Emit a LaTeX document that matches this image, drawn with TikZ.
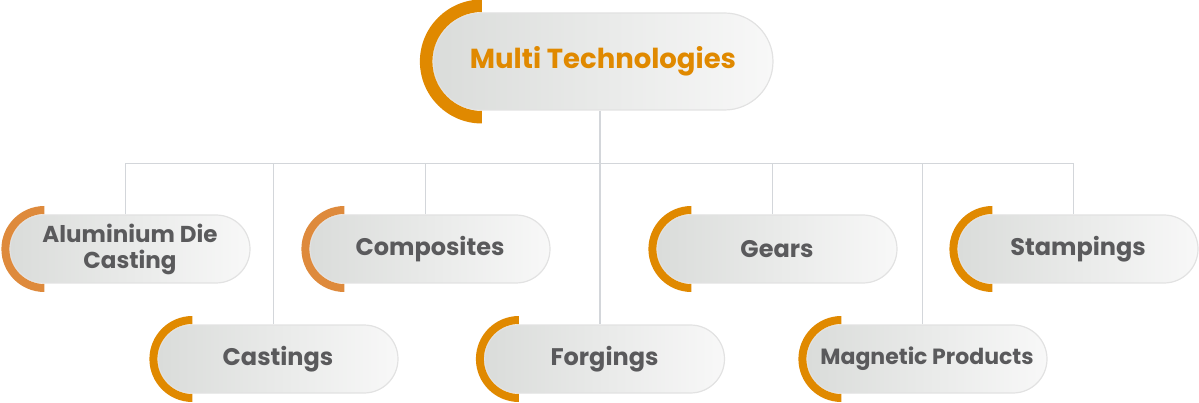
\documentclass[tikz,border=0pt]{standalone}
\usepackage{fontspec}
\setmainfont{Poppins}
\usetikzlibrary{shapes.misc,calc}
\definecolor{linegray}{RGB}{211,214,218}
\definecolor{txtgray}{RGB}{90,90,92}
\definecolor{orgA}{RGB}{224,137,0}
\definecolor{orgB}{RGB}{222,138,60}
\definecolor{pillL}{RGB}{218,220,218}
\definecolor{pillR}{RGB}{248,248,248}
\definecolor{pillE}{RGB}{226,226,226}
\tikzset{
  pill/.style={rounded rectangle, minimum width=240pt, minimum height=68pt, inner sep=0pt,
    left color=pillL, right color=pillR, draw=pillE, line width=1.2pt, text=txtgray,
    font=\bfseries\fontsize{24}{27}\selectfont, align=center},
  toppill/.style={pill, minimum width=340pt, minimum height=97pt, text=orgA,
    font=\bfseries\fontsize{27.5}{32}\selectfont},
  conn/.style={draw=linegray, line width=1.5pt},
}
\newcommand\halfring[4]{%
  \path ($(#1.west)+(#2pt,0)$) coordinate (#1c);
  \fill[#4] ($(#1c)+(0,#3pt)$) arc[start angle=90,end angle=270,radius=#3pt]
    -- ($(#1c)+(0,-#2pt)$) arc[start angle=270,end angle=90,radius=#2pt] -- cycle;
}
\begin{document}
\begin{tikzpicture}[x=1pt,y=-1pt]
\useasboundingbox (0,0) rectangle (1199,403);
\node[toppill] (top) at (603,61.5) {Multi Technologies};
\node[pill, font=\bfseries\fontsize{23}{26}\selectfont] (alu) at (130,249) {Aluminium Die\\Casting};
\node[pill] (comp) at (430,249) {Composites};
\node[pill] (gears) at (777,249) {Gears};
\node[pill] (stamp) at (1078,249) {Stampings};
\node[pill] (cast) at (278,359) {Castings};
\node[pill] (forg) at (604.5,359) {Forgings};
\node[pill, font=\bfseries\fontsize{22}{26}\selectfont] (magn) at (927,359) {Magnetic Products};
\coordinate (hub) at (600,163.5);
\draw[conn] (hub |- top.south) -- (hub);
\foreach \n in {alu,comp,gears,stamp,cast,forg,magn}{
  \draw[conn] ([xshift=-4.5pt]\n.north) |- (hub);
}
\halfring{top}{49.5}{62}{orgA}
\halfring{alu}{35}{43}{orgB}
\halfring{comp}{35}{43}{orgB}
\halfring{gears}{35}{43}{orgA}
\halfring{stamp}{35}{43}{orgA}
\halfring{cast}{35}{43}{orgA}
\halfring{forg}{35}{43}{orgA}
\halfring{magn}{35}{43}{orgA}
\end{tikzpicture}
\end{document}
